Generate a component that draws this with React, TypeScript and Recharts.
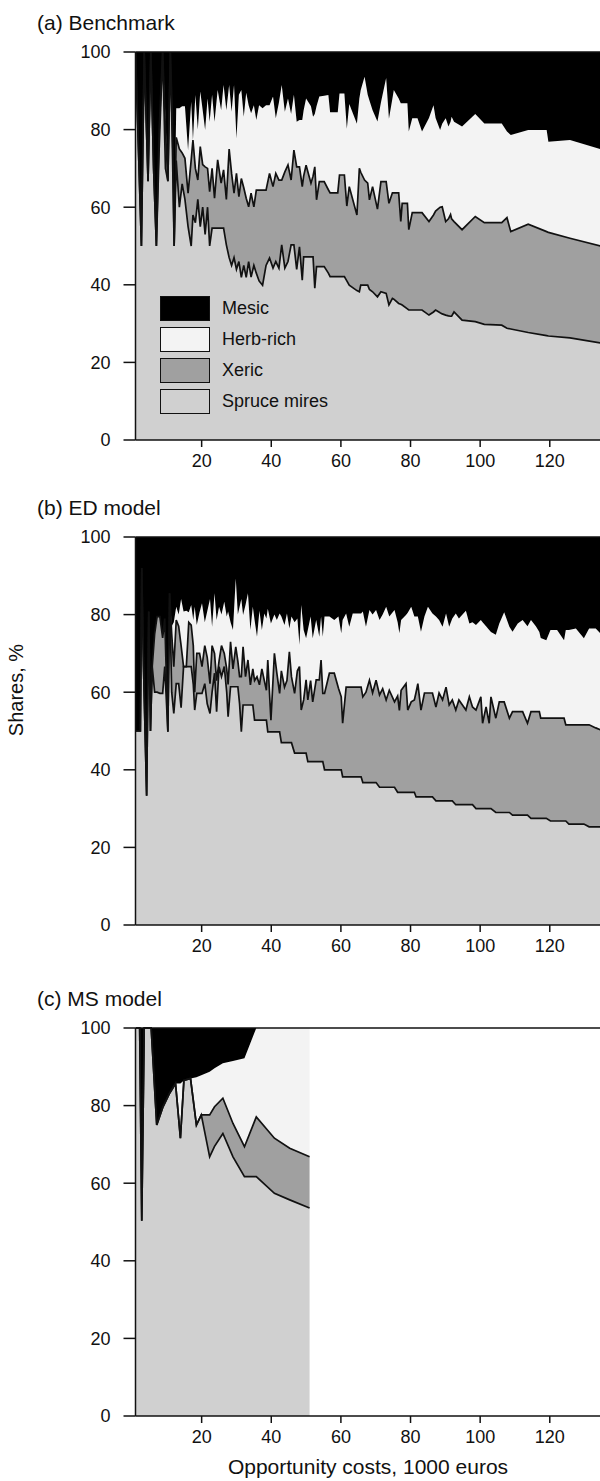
import React from 'react';
import { Area, ComposedChart, Line, ReferenceLine, XAxis, YAxis } from 'recharts';

const FONT = '"Liberation Sans", Arial, Helvetica, sans-serif';
const INK = '#111111';

const habitats = ['Mesic', 'Herb-rich', 'Xeric', 'Spruce mires'];
const habitatColors = ['#000000', '#f3f3f3', '#a0a0a0', '#d0d0d0'];
const costTicks = [20, 40, 60, 80, 100, 120];
const shareTicks = [0, 20, 40, 60, 80, 100];

// (a) Benchmark
const benchCost = [
  1.0, 2.7, 3.5, 4.6, 5.4, 6.2, 7.0, 7.8, 8.8, 9.6,
  10.3, 11.0, 11.6, 12.1, 12.7, 13.6, 14.4, 15.2, 16.1, 17.0,
  17.5, 18.2, 18.9, 19.6, 20.3, 21.0, 21.7, 22.3, 23.0, 23.7,
  24.6, 25.6, 26.3, 27.1, 27.9, 28.6, 29.3, 30.0, 30.7, 31.4,
  32.1, 32.8, 33.5, 34.2, 35.0, 35.7, 36.5, 37.5, 38.5, 39.5,
  40.5, 41.3, 42.2, 43.0, 43.9, 44.8, 45.7, 46.5, 47.3, 48.1,
  48.9, 49.3, 50.0, 51.4, 52.0, 52.5, 53.0, 53.8, 55.2, 56.4,
  56.9, 59.1, 59.6, 61.0, 61.7, 62.4, 64.6, 65.3, 65.7, 66.8,
  67.7, 68.2, 69.1, 70.5, 71.5, 73.0, 73.8, 74.8, 75.2, 76.6,
  77.2, 77.6, 79.1, 79.5, 80.5, 82.0, 83.3, 85.3, 86.6, 87.2,
  88.5, 89.1, 90.1, 90.9, 91.5, 91.8, 92.5, 94.8, 98.6, 101.2,
  106.2, 107.7, 108.8, 113.8, 119.1, 119.6, 125.8, 134.5,
];
const benchSpruce = [
  100, 50, 100, 66.7, 100, 70, 50, 75, 100, 70,
  66.7, 100, 75, 50, 72, 60, 66, 62, 55, 50,
  58, 56, 62, 55, 60, 53, 60, 50, 54.6, 54.6,
  54.6, 54.6, 54.6, 50.3, 47, 45, 47, 44, 46, 41.9,
  45, 41.9, 46, 42, 45, 43, 41, 39.9, 45, 46.9,
  44.3, 46, 44.3, 50.3, 44.3, 46, 50.3, 50.3, 44, 49.8,
  41.2, 47.2, 47.2, 47.2, 47.2, 39.1, 44.7, 44.7, 44.7, 43,
  42.1, 42.1, 42.1, 42.1, 41, 39.9, 38.5, 38.2, 39.9, 39.9,
  39.9, 38.8, 38.2, 36.9, 38.2, 37.8, 34.8, 36.5, 36.3, 35.2,
  35, 34.8, 33.8, 33.5, 33.5, 33.5, 33.5, 32.2, 33, 33.5,
  32.8, 32.5, 32.2, 32, 31.9, 31.9, 33, 30.9, 30.5, 29.8,
  29.6, 28.8, 28.6, 27.7, 26.9, 26.8, 26.3, 25,
];
const benchXeric = [
  0, 0, 0, 0, 0, 0, 0, 5, 0, 10,
  0, 0, 8.3, 0, 6, 15, 8, 10.6, 8.6, 22.2,
  19.3, 14, 5, 20.6, 11, 17.4, 10, 14, 15.4, 7.7,
  17.6, 11.6, 15, 11.7, 28, 23.7, 16.6, 24.7, 16.7, 25.5,
  20, 20.4, 14.1, 21.6, 15.1, 21.4, 23.4, 24.5, 19.4, 21.8,
  21, 22.7, 22.7, 16.7, 24.8, 24.9, 16.7, 24.4, 26.4, 20.6,
  24.1, 20.8, 23.6, 19, 20.8, 31.3, 17.2, 21.9, 21.9, 21.5,
  21.6, 21.6, 26.2, 26.2, 19.3, 25.4, 19.5, 31.8, 29.1, 27.1,
  26.3, 23.1, 27.1, 22.6, 28.4, 28.8, 26.2, 27.2, 27.4, 28.5,
  21.3, 26.2, 27.2, 20.7, 25.1, 25.1, 25.1, 24.1, 25, 25.5,
  27.2, 27.6, 24.1, 25, 26.2, 25.1, 23.3, 23.3, 27.1, 26.2,
  26.4, 28.5, 25.1, 27.9, 26.8, 26.7, 25.7, 25,
];
const benchHerb = [
  0, 0, 0, 0, 0, 0, 0, 0, 0, 3,
  0, 0, 0, 0, 7.5, 10.5, 12, 13.4, 11.1, 15,
  0, 18.9, 13, 14.2, 14, 9.5, 18, 18, 19, 19.7,
  18, 18.8, 21.9, 23, 16.5, 15.9, 27.9, 9, 26.3, 22.8,
  18.3, 27.2, 26.2, 20.6, 26.2, 18.1, 21.9, 21.1, 21.9, 17.6,
  23.2, 14.2, 20, 24.5, 15.5, 17.1, 17, 14.3, 11.6, 12.1,
  17.2, 17, 17.2, 19.8, 15.3, 13.6, 24.1, 21.9, 22.1, 24.4,
  20.8, 20.8, 21, 21, 19.9, 21.3, 23.5, 18, 21.2, 26.6,
  22.8, 25.6, 19.7, 22.6, 20.4, 26.7, 21.8, 24.3, 26.5, 24.3,
  30.5, 25.8, 25.8, 25.3, 24.3, 24.3, 20.9, 26.7, 28.3, 24,
  19.9, 21.4, 26.6, 23.8, 23.9, 26.3, 25.7, 26.6, 26.4, 25.6,
  25.6, 22.2, 24.9, 24.3, 26.2, 23.4, 25.3, 25,
];
const benchMesic = [
  0, 50, 0, 33.3, 0, 30, 50, 20, 0, 17,
  33.3, 0, 16.7, 50, 14.5, 14.5, 14, 14, 25.3, 12.8,
  22.7, 11.1, 20, 10.2, 15, 20.1, 12, 18, 11, 18,
  9.8, 15, 8.5, 15, 8.5, 15.4, 8.5, 22.3, 11, 9.8,
  16.7, 10.5, 13.7, 15.8, 13.7, 17.5, 13.7, 14.5, 13.7, 13.7,
  11.5, 17.1, 13, 8.5, 15.4, 12, 16, 11, 18, 17.5,
  17.5, 15, 12, 14, 16.7, 16, 14, 11.5, 11.3, 11.1,
  15.5, 15.5, 10.7, 10.7, 19.8, 13.4, 18.5, 12, 9.8, 6.4,
  11, 12.5, 15, 17.9, 13, 6.7, 17.2, 12, 9.8, 12,
  13.2, 13.2, 13.2, 20.5, 17.1, 17.1, 20.5, 17, 13.7, 17,
  20.1, 18.5, 17.1, 19.2, 18, 16.7, 18, 19.2, 16, 18.4,
  18.4, 20.5, 21.4, 20.1, 20.1, 23.1, 22.7, 25,
];

// (b) ED model
const edCost = [
  1.0, 2.4, 2.8, 3.3, 4.2, 4.8, 5.3, 5.8, 6.5, 7.2,
  8.0, 8.8, 9.4, 10.3, 10.8, 11.4, 12.0, 12.7, 13.4, 14.1,
  14.8, 15.6, 16.3, 17.0, 17.6, 18.0, 18.6, 19.4, 20.1, 20.9,
  21.6, 22.4, 23.0, 23.7, 24.3, 25.0, 25.7, 26.5, 27.2, 27.6,
  28.3, 29.0, 29.8, 30.4, 30.9, 31.4, 31.9, 32.6, 33.3, 34.0,
  34.7, 35.2, 35.9, 36.6, 37.3, 38.0, 38.6, 39.0, 39.9, 40.9,
  41.6, 42.4, 42.9, 43.8, 44.5, 45.2, 45.8, 46.7, 47.5, 48.1,
  48.6, 49.3, 50.0, 50.5, 51.3, 51.9, 52.9, 53.8, 54.3, 54.8,
  55.3, 56.7, 58.1, 59.3, 60.1, 60.5, 61.5, 62.4, 63.4, 65.8,
  66.3, 67.2, 68.2, 69.1, 70.1, 71.1, 72.0, 73.0, 73.9, 75.4,
  76.3, 76.8, 77.3, 78.7, 79.2, 80.2, 81.1, 81.6, 82.1, 83.0,
  84.0, 85.0, 86.3, 87.3, 88.2, 89.2, 90.2, 91.1, 92.0, 93.0,
  93.9, 95.9, 96.9, 97.8, 98.8, 100.2, 100.7, 101.7, 102.6, 103.1,
  104.5, 105.5, 106.9, 108.4, 109.3, 110.8, 112.2, 113.6, 114.6, 116.0,
  117.0, 117.4, 119.0, 120.2, 122.1, 124.1, 124.6, 125.5, 127.5, 129.8,
  131.3, 133.2, 134.5,
];
const edSpruce = [
  50, 50, 92, 66.6, 33.3, 80.8, 50, 66.6, 60, 60,
  59.7, 59.7, 66.6, 49.8, 85.5, 60, 54.5, 62.2, 62.2, 56,
  66.6, 66.6, 66.6, 66.6, 62, 55.4, 59.7, 59.7, 59.7, 62.2,
  57, 54.5, 60, 64.9, 55, 66.6, 64, 66.6, 60, 53.7,
  61.4, 61.4, 61.4, 61.4, 57, 49.8, 56.7, 56.7, 56.7, 56.7,
  56.7, 52.8, 52.8, 52.8, 52.8, 52.8, 52.8, 49.8, 49.8, 49.8,
  49.8, 49.8, 47, 47, 47, 47, 47, 44.3, 44.3, 44.3,
  44.3, 44.3, 44.3, 42.1, 42.1, 42.1, 42.1, 42.1, 42.1, 42.1,
  40, 40, 40, 40, 40, 38.2, 38.2, 38.2, 38.2, 38.2,
  36.7, 36.7, 36.7, 36.7, 36.7, 35.5, 35.5, 35.5, 35.5, 35.5,
  34.2, 34.2, 34.2, 34.2, 34.2, 34.2, 34.2, 33, 33, 33,
  33, 33, 33, 32, 32, 32, 32, 32, 32, 31,
  31, 31, 31, 31, 30, 30, 30, 30, 30, 30,
  29, 29, 29, 29, 28.3, 28.3, 28.3, 28.3, 27.5, 27.5,
  27.5, 27.5, 27.5, 26.8, 26.8, 26.8, 26.8, 26, 26, 26,
  25.3, 25.3, 25.3,
];
const edXeric = [
  0, 0, 0, 0, 0, 0, 0, 0, 15, 19.5,
  19.8, 14.3, 12.4, 0, 0, 15, 12.1, 16.4, 14.8, 16,
  0, 0, 11.4, 10.7, 10, 4.6, 10.3, 10.3, 6.9, 9.8,
  12, 7.7, 12, 5.1, 8, 1.4, 8, 3.4, 6, 8.3,
  11.6, 4.6, 10.3, 6.6, 7, 14.2, 15, 7.3, 11.6, 5.2,
  9.3, 10.2, 11.2, 9.1, 13.2, 10.2, 7.7, 18.5, 3, 20.2,
  15.1, 9.9, 18.5, 14.3, 16, 23.4, 17, 15.4, 21.2, 22.3,
  11.1, 13.7, 18.9, 15.9, 20.9, 15.4, 21.1, 21.1, 26.2, 17.6,
  19.7, 24.9, 24.9, 21, 18.8, 13.8, 23.1, 23.1, 23.1, 23.1,
  22.1, 23.3, 26.4, 23.1, 26.4, 23.8, 25.4, 22.5, 25, 22,
  24.8, 21.1, 26.3, 28, 21.2, 23.3, 23.8, 27, 29.2, 22.4,
  26.8, 26.8, 26.8, 24.2, 27.8, 26, 29.3, 24.7, 26, 24.4,
  27, 24.4, 27.8, 25.2, 25.4, 28.8, 22, 26.2, 22, 28.8,
  24.3, 28.5, 28.5, 24.3, 26.7, 26.7, 26.7, 23.7, 27.5, 27.5,
  27.5, 25.8, 25.8, 26.5, 26.5, 26.5, 24.8, 25.6, 25.6, 25.6,
  26.3, 25.5, 25,
];
const edHerb = [
  0, 0, 0, 0, 0, 0, 0, 0, 0, 0,
  0, 0, 0, 0, 0, 2, 11.4, 3.4, 3, 12,
  14.2, 14.4, 2.6, 5.2, 6.6, 22, 7.3, 10.6, 16.3, 6,
  11.8, 21.8, 4.9, 15.5, 15.6, 14, 8, 13.3, 13.5, 18.8,
  5, 10, 17.6, 12, 18, 20, 8.2, 18.5, 17.2, 14.1,
  16, 15.6, 10.3, 19.1, 10, 17.3, 18.5, 13.2, 24.9, 10,
  13.7, 20.6, 14, 16, 17.3, 6, 15.5, 18.3, 13.5, 5.6,
  27.1, 18, 10.7, 18, 16.5, 16.4, 15.4, 11.1, 11.2, 14.6,
  19.8, 14.6, 13.7, 18.5, 16.4, 26.6, 19, 15.6, 19, 19,
  22, 16.9, 18.1, 20.2, 18.1, 19.3, 19.1, 24, 19, 23.7,
  19, 19.9, 18.1, 17.7, 25.1, 24.5, 21.5, 19.5, 17.3, 20.2,
  19.7, 22.2, 20.5, 23.3, 18.8, 18.9, 19, 20.2, 21, 24.9,
  21, 25.6, 18.9, 21.8, 21.9, 19.8, 26, 20.8, 24, 16.7,
  21.5, 20.2, 23.1, 23.6, 20.6, 22.7, 23.6, 25, 23.6, 22,
  20.5, 20.7, 20.1, 22.7, 22.7, 20.1, 24.4, 24.4, 24.8, 22.3,
  24.8, 25.6, 24.9,
];
const edMesic = [
  50, 50, 8, 33.4, 66.7, 19.2, 50, 33.4, 25, 20.5,
  20.5, 26, 21, 50.2, 14.5, 23, 22, 18, 20, 16,
  19.2, 19, 19.4, 17.5, 21.4, 18, 22.7, 19.4, 17.1, 22,
  19.2, 16, 23.1, 14.5, 21.4, 18, 20, 16.7, 20.5, 19.2,
  22, 24, 10.7, 20, 18, 16, 20.1, 17.5, 14.5, 24,
  18, 21.4, 25.7, 19, 24, 19.7, 21, 18.5, 22.3, 20,
  21.4, 19.7, 20.5, 22.7, 19.7, 23.6, 20.5, 22, 21, 27.8,
  17.5, 24, 26.1, 24, 20.5, 26.1, 21.4, 25.7, 20.5, 25.7,
  20.5, 20.5, 21.4, 20.5, 24.8, 21.4, 19.7, 23.1, 19.7, 19.7,
  19.2, 23.1, 18.8, 20, 18.8, 21.4, 20, 18, 20.5, 18.8,
  22, 24.8, 21.4, 20.1, 19.5, 18, 20.5, 20.5, 20.5, 24.4,
  20.5, 18, 19.7, 20.5, 21.4, 23.1, 19.7, 23.1, 21, 19.7,
  21, 19, 22.3, 22, 22.7, 21.4, 22, 23, 24, 24.5,
  25.2, 22.3, 19.4, 23.1, 24.4, 22.3, 21.4, 23, 21.4, 23,
  24.5, 26, 26.6, 24, 24, 26.6, 24, 24, 23.6, 26.1,
  23.6, 23.6, 24.8,
];

// (c) MS model
const msCost = [
  1.0, 2.2, 2.8, 3.5, 5.5, 7.1, 8.9, 10.8, 12.5, 13.9,
  14.9, 16.8, 18.5, 19.9, 22.3, 23.7, 26.1, 29.0, 32.3, 35.7,
  40.9, 45.3, 51.0,
];
const msSpruce = [
  100, 100, 50.3, 100, 100, 75, 79.7, 83.2, 85.7, 71.6,
  86.5, 87, 75, 77.6, 66.8, 69.5, 72.8, 66.8, 61.7, 61.7,
  57.4, 55.7, 53.6,
];
const msXeric = [
  0, 0, 0, 0, 0, 0, 0, 0, 0, 0,
  0, 0, 0, 0, 10.8, 10.2, 9.1, 8.6, 7.7, 15.4,
  14.2, 13.3, 13.2,
];
const msHerb = [
  0, 0, 0, 0, 0, 0, 0, 0, 0, 14.1,
  0, 0, 12.3, 10.2, 11.1, 9.9, 9, 16.1, 22.8, 22.9,
  28.4, 31, 33.2,
];
const msMesic = [
  0, 0, 49.7, 0, 0, 25, 20.3, 16.8, 14.3, 14.3,
  13.5, 13, 12.7, 12.2, 11.3, 10.4, 9.1, 8.5, 7.8, 0,
  0, 0, 0,
];

type Row = { cost: number; spruce: number; xeric: number; herb: number; mesic: number };

const toRows = (cost: number[], spruce: number[], xeric: number[], herb: number[], mesic: number[]): Row[] =>
  cost.map((c, i) => ({ cost: c, spruce: spruce[i], xeric: xeric[i], herb: herb[i], mesic: mesic[i] }));

const benchRows = toRows(benchCost, benchSpruce, benchXeric, benchHerb, benchMesic);
const edRows = toRows(edCost, edSpruce, edXeric, edHerb, edMesic);
const msRows = toRows(msCost, msSpruce, msXeric, msHerb, msMesic);

const tickStyle = { fill: INK, fontSize: 18, fontFamily: FONT };
const axisStroke = { stroke: INK, strokeWidth: 1.5 };

const Panel = ({ rows, top, title }: { rows: Row[]; top: number; title: string }) => (
  <div style={{ position: 'absolute', left: 0, top }}>
    <div
      style={{
        position: 'absolute',
        left: 37,
        top: 12,
        fontFamily: FONT,
        fontSize: 21,
        lineHeight: '22px',
        color: INK,
        whiteSpace: 'nowrap',
      }}
    >
      {title}
    </div>
    <ComposedChart width={604} height={480} data={rows} margin={{ top: 52, right: 2, bottom: 0, left: 0 }}>
      <XAxis
        dataKey="cost"
        type="number"
        domain={[1, 135]}
        allowDataOverflow
        ticks={costTicks}
        interval={0}
        height={40}
        tickSize={7}
        tickMargin={7}
        axisLine={axisStroke}
        tickLine={axisStroke}
        tick={tickStyle}
      />
      <YAxis
        type="number"
        domain={[0, 100]}
        ticks={shareTicks}
        interval={0}
        width={135.5}
        tickSize={12}
        tickMargin={13}
        axisLine={axisStroke}
        tickLine={axisStroke}
        tick={tickStyle}
      />
      <Area type="linear" dataKey="spruce" stackId="1" fill={habitatColors[3]} fillOpacity={1} stroke="none" isAnimationActive={false} />
      <Area type="linear" dataKey="xeric" stackId="1" fill={habitatColors[2]} fillOpacity={1} stroke="none" isAnimationActive={false} />
      <Area type="linear" dataKey="herb" stackId="1" fill={habitatColors[1]} fillOpacity={1} stroke="none" isAnimationActive={false} />
      <Area type="linear" dataKey="mesic" stackId="1" fill={habitatColors[0]} fillOpacity={1} stroke="none" isAnimationActive={false} />
      <Line
        type="linear"
        dataKey={(d: Row) => d.spruce + d.xeric}
        stroke={INK}
        strokeWidth={1.7}
        dot={false}
        activeDot={false}
        isAnimationActive={false}
      />
      <Line
        type="linear"
        dataKey="spruce"
        stroke={INK}
        strokeWidth={1.7}
        dot={false}
        activeDot={false}
        isAnimationActive={false}
      />
      <ReferenceLine y={100} stroke={INK} strokeWidth={1.3} />
    </ComposedChart>
  </div>
);

const LegendBox = () => (
  <div style={{ position: 'absolute', left: 160, top: 296, fontFamily: FONT, fontSize: 18, color: INK }}>
    {habitats.map((name, i) => (
      <div key={name} style={{ position: 'absolute', left: 0, top: i * 31, height: 25, whiteSpace: 'nowrap' }}>
        <div
          style={{
            position: 'absolute',
            left: 0,
            top: 0,
            width: 50,
            height: 25,
            boxSizing: 'border-box',
            border: `1.3px solid ${INK}`,
            background: habitatColors[i],
          }}
        />
        <div style={{ position: 'absolute', left: 62, top: 0, lineHeight: '25px' }}>{name}</div>
      </div>
    ))}
  </div>
);

export default function App() {
  return (
    <div
      style={{
        position: 'absolute',
        left: 0,
        top: 0,
        width: 600,
        height: 1481,
        overflow: 'hidden',
        background: '#ffffff',
      }}
    >
      <Panel rows={benchRows} top={0} title="(a) Benchmark" />
      <Panel rows={edRows} top={485} title="(b) ED model" />
      <Panel rows={msRows} top={976} title="(c) MS model" />
      <LegendBox />
      <div
        style={{
          position: 'absolute',
          left: 16,
          top: 690,
          transform: 'translate(-50%, -50%) rotate(-90deg)',
          fontFamily: FONT,
          fontSize: 20,
          color: INK,
          whiteSpace: 'nowrap',
        }}
      >
        Shares, %
      </div>
      <div
        style={{
          position: 'absolute',
          left: 368,
          top: 1467,
          transform: 'translate(-50%, -50%)',
          fontFamily: FONT,
          fontSize: 21,
          color: INK,
          whiteSpace: 'nowrap',
        }}
      >
        Opportunity costs, 1000 euros
      </div>
    </div>
  );
}
